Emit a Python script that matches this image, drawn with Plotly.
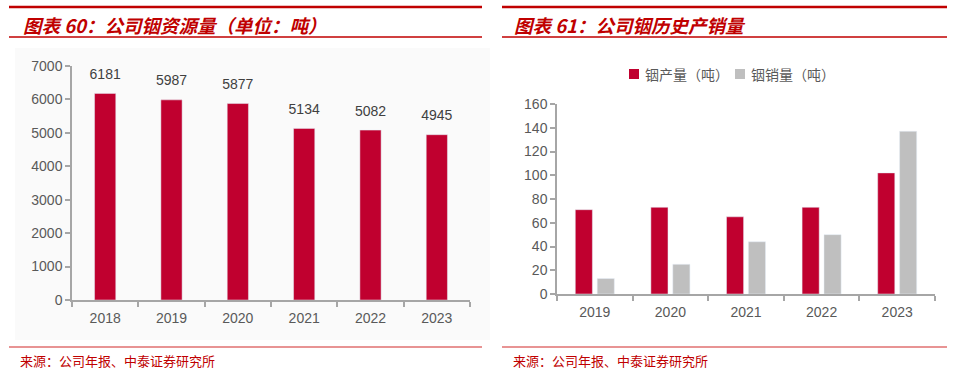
import plotly.graph_objects as go

W, H = 961, 374

# ---- data ----
years_left = ["2018", "2019", "2020", "2021", "2022", "2023"]
resource_t = [6181, 5987, 5877, 5134, 5082, 4945]

years_right = ["2019", "2020", "2021", "2022", "2023"]
production_t = [71, 73, 65, 73, 102]
sales_t = [13, 25, 44, 50, 137]

title_left = "图表 60：公司铟资源量（单位：吨）"
title_right = "图表 61：公司铟历史产销量"
source_text = "来源：公司年报、中泰证券研究所"
name_prod = "铟产量（吨）"
name_sales = "铟销量（吨）"

RED = "#C0002F"
GRAY = "#BFBFBF"
HDR = "#C00000"
TXT = "#595959"
LAB = "#404040"
AX = "#A6A6A6"
LATIN = "Arial, Liberation Sans, sans-serif"
CJK = "Noto Sans CJK SC, sans-serif"

def px(x):
    return x / W

def py(y):
    return 1 - y / H

fig = go.Figure()

fig.add_trace(go.Bar(x=years_left, y=resource_t, marker_color=RED, showlegend=False, width=0.32,
                     xaxis="x", yaxis="y", hoverinfo="skip"))
# value labels above bars
fig.add_trace(go.Scatter(x=years_left, y=resource_t, mode="markers+text", text=[str(v) for v in resource_t],
                         textposition="top center", marker=dict(size=16, color="rgba(0,0,0,0)"),
                         textfont=dict(family=LATIN, size=14, color=LAB), showlegend=False,
                         xaxis="x", yaxis="y", hoverinfo="skip", cliponaxis=False))
fig.add_trace(go.Bar(x=years_right, y=production_t, name=name_prod, marker_color=RED,
                     xaxis="x2", yaxis="y2", showlegend=False))
fig.add_trace(go.Bar(x=years_right, y=sales_t, name=name_sales, marker_color=GRAY,
                     xaxis="x2", yaxis="y2", showlegend=False))

annotations = []
# titles
annotations.append(dict(x=px(21), y=py(25), xref="paper", yref="paper", text="<b><i>%s</i></b>" % title_left,
                        showarrow=False, xanchor="left", yanchor="middle",
                        font=dict(family=CJK, size=18.5, color=HDR)))
annotations.append(dict(x=px(512), y=py(25), xref="paper", yref="paper", text="<b><i>%s</i></b>" % title_right,
                        showarrow=False, xanchor="left", yanchor="middle",
                        font=dict(family=CJK, size=18.5, color=HDR)))
# sources
annotations.append(dict(x=px(18), y=py(360), xref="paper", yref="paper", text=source_text,
                        showarrow=False, xanchor="left", yanchor="middle",
                        font=dict(family=CJK, size=13, color=HDR)))
annotations.append(dict(x=px(511), y=py(360), xref="paper", yref="paper", text=source_text,
                        showarrow=False, xanchor="left", yanchor="middle",
                        font=dict(family=CJK, size=13, color=HDR)))

# legend (right chart)
legend_items = [(name_prod, RED, 629), (name_sales, GRAY, 735)]
shapes = [
    dict(type="rect", xref="paper", yref="paper", x0=px(15), x1=px(490), y0=py(340), y1=py(48),
         fillcolor="#FAFAFA", line=dict(width=0), layer="below"),
]
for name, col, lx in legend_items:
    shapes.append(dict(type="rect", xref="paper", yref="paper", x0=px(lx), x1=px(lx + 10),
                       y0=py(79), y1=py(69), fillcolor=col, line=dict(width=0)))
    annotations.append(dict(x=px(lx + 14), y=py(74), xref="paper", yref="paper", text=name,
                            showarrow=False, xanchor="left", yanchor="middle",
                            font=dict(family=CJK, size=14, color=TXT)))

for x0, x1 in [(9, 482), (502, 947)]:
    shapes.append(dict(type="line", xref="paper", yref="paper", x0=px(x0), x1=px(x1), y0=py(7), y1=py(7),
                       line=dict(color=HDR, width=2.5)))
    shapes.append(dict(type="line", xref="paper", yref="paper", x0=px(x0), x1=px(x1), y0=py(37), y1=py(37),
                       line=dict(color=HDR, width=1.5)))
    shapes.append(dict(type="line", xref="paper", yref="paper", x0=px(x0), x1=px(x1), y0=py(347), y1=py(347),
                       line=dict(color="#E07070", width=1.5)))

axis_common = dict(showline=True, linecolor=AX, linewidth=1.5, ticks="outside", ticklen=5,
                   tickcolor=AX, tickwidth=1.5, showgrid=False, zeroline=False, automargin=False,
                   tickfont=dict(family=LATIN, size=14, color=TXT), fixedrange=True)

fig.update_layout(
    width=W, height=H,
    margin=dict(l=0, r=0, t=0, b=0, pad=0, autoexpand=False),
    paper_bgcolor="white", plot_bgcolor="rgba(0,0,0,0)",
    barmode="group", bargap=0.42, bargroupgap=0.22,
    xaxis=dict(domain=[px(72), px(470)], type="category", tickson="boundaries",
               range=[-0.5, len(years_left) - 0.5], tickangle=0, ticklabelstandoff=4,
               anchor="y", **axis_common),
    yaxis=dict(domain=[py(300), py(66)], range=[0, 7000], dtick=1000, anchor="x", **axis_common),
    xaxis2=dict(domain=[px(557), px(935)], type="category", tickson="boundaries",
                range=[-0.5, len(years_right) - 0.5], tickangle=0, ticklabelstandoff=4,
                anchor="y2", **axis_common),
    yaxis2=dict(domain=[py(294), py(104)], range=[0, 160], dtick=20, anchor="x2", **axis_common),
    annotations=annotations,
    shapes=shapes,
    showlegend=False,
)

fig.write_html("out.html", config={"displayModeBar": False},
               post_script="document.body.style.margin='0';document.body.style.overflow='hidden';")
